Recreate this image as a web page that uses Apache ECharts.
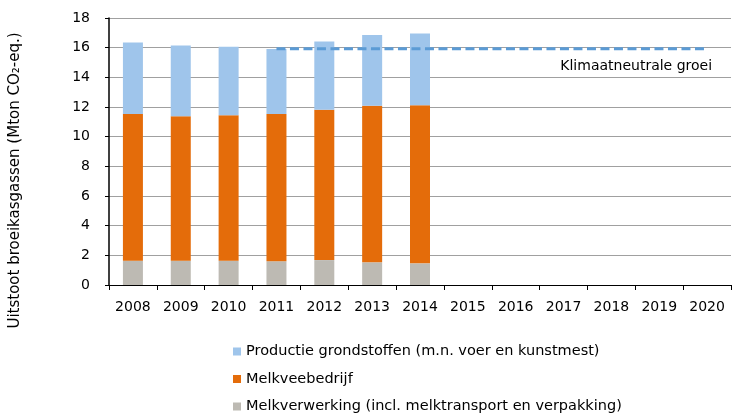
<!DOCTYPE html>
<html>
<head>
<meta charset="utf-8">
<script src="https://cdn.jsdelivr.net/npm/echarts@6/dist/echarts.min.js"></script>
<style>
    html, body { margin: 0; padding: 0; background: #fff; }
    #main { width: 733px; height: 414px; }
</style>
</head>
<body>
<div id="main"></div>
<script>
// jaren op de x-as
var years = ['2008', '2009', '2010', '2011', '2012', '2013', '2014', '2015', '2016', '2017', '2018', '2019', '2020'];
// melkverwerking (onderste deel)
var melkverwerking = [1.64, 1.64, 1.64, 1.60, 1.68, 1.53, 1.46];
// melkveebedrijf (middelste deel)
var melkveebedrijf = [9.88, 9.74, 9.81, 9.92, 10.13, 10.55, 10.66];
// productie grondstoffen (bovenste deel)
var grondstoffen = [4.82, 4.76, 4.62, 4.39, 4.60, 4.78, 4.83];
// klimaatneutrale groei vanaf 2011
var klimaatneutraal = [null, null, null, 15.93, 15.93, 15.93, 15.93, 15.93, 15.93, 15.93, 15.93, 15.93, 15.93];

var font = 'Verdana, "DejaVu Sans", sans-serif';

var myChart = echarts.init(document.getElementById('main'));
var option = {
    animation: false,
    textStyle: { fontFamily: font },
    grid: { left: 109, right: 2, top: 18, bottom: 129 },
    legend: {
        orient: 'vertical',
        left: 233,
        top: 344,
        padding: 0,
        itemGap: 12.5,
        itemWidth: 8,
        itemHeight: 8,
        icon: 'rect',
        textStyle: { fontFamily: font, fontSize: 14.5, color: '#000' },
        data: ['Productie grondstoffen (m.n. voer en kunstmest)', 'Melkveebedrijf', 'Melkverwerking (incl. melktransport en verpakking)']
    },
    xAxis: {
        type: 'category',
        data: years,
        boundaryGap: true,
        axisLine: { lineStyle: { color: '#000', width: 1 } },
        axisTick: { show: true, length: 5, lineStyle: { color: '#000' } },
        axisLabel: { color: '#000', fontSize: 14, margin: 15, fontFamily: font }
    },
    yAxis: {
        type: 'value',
        min: 0,
        max: 18,
        interval: 2,
        name: 'Uitstoot broeikasgassen (Mton CO₂-eq.)',
        nameLocation: 'middle',
        nameGap: 86,
        nameTextStyle: { color: '#000', fontSize: 15, fontFamily: font, padding: [0, 58, 0, 0] },
        axisLine: { show: true, lineStyle: { color: '#000', width: 1.5 } },
        axisTick: { show: true, length: 4, lineStyle: { color: '#000' } },
        axisLabel: { color: '#000', fontSize: 14, margin: 19, fontFamily: font },
        splitLine: { lineStyle: { color: '#a0a0a0', width: 1 } }
    },
    series: [
        {
            name: 'Melkverwerking (incl. melktransport en verpakking)',
            type: 'bar',
            stack: 'totaal',
            barWidth: 20,
            itemStyle: { color: '#bdbab3' },
            data: melkverwerking
        },
        {
            name: 'Melkveebedrijf',
            type: 'bar',
            stack: 'totaal',
            barWidth: 20,
            itemStyle: { color: '#e46c0a' },
            data: melkveebedrijf
        },
        {
            name: 'Productie grondstoffen (m.n. voer en kunstmest)',
            type: 'bar',
            stack: 'totaal',
            barWidth: 20,
            itemStyle: { color: '#9fc5eb' },
            data: grondstoffen
        },
        {
            name: 'Klimaatneutrale groei',
            type: 'line',
            symbol: 'circle',
            symbolSize: 0,
            showSymbol: true,
            z: 5,
            lineStyle: { color: '#5b9bd5', width: 3, type: [9, 4.5] },
            data: klimaatneutraal.map(function (v, i) {
                if (i === klimaatneutraal.length - 1) {
                    return {
                        value: v,
                        label: {
                            show: true,
                            position: 'bottom',
                            align: 'right',
                            offset: [5, 6],
                            formatter: 'Klimaatneutrale groei',
                            color: '#000',
                            fontSize: 14,
                            fontFamily: font
                        }
                    };
                }
                return v;
            })
        }
    ]
};
myChart.setOption(option);
</script>
</body>
</html>
